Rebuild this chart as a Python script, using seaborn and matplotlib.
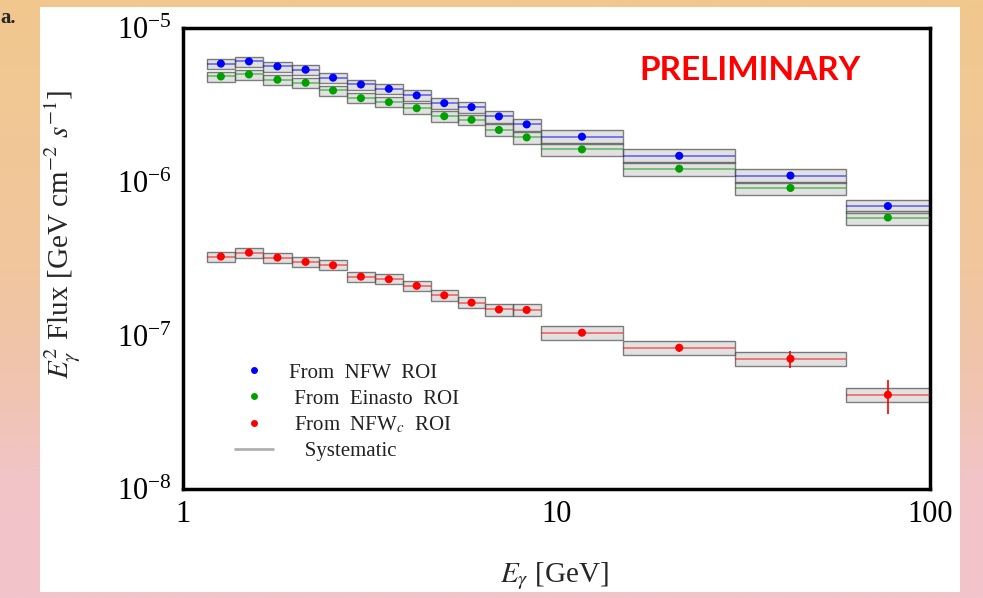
import numpy as np
import pandas as pd
import seaborn as sns
import matplotlib.pyplot as plt
from matplotlib.lines import Line2D
from matplotlib.patches import Rectangle
from matplotlib.ticker import LogLocator, LogFormatterMathtext, FuncFormatter, NullFormatter

# energy bin edges [GeV]
e_edges = [1.16, 1.38, 1.64, 1.96, 2.32, 2.75, 3.27, 3.88, 4.61, 5.45, 6.45, 7.64,
           9.08, 15.1, 30.1, 59.5, 100.0]

# E^2 flux [GeV cm^-2 s^-1] for each bin
nfw = [5.89e-6, 6.09e-6, 5.65e-6, 5.38e-6, 4.77e-6, 4.31e-6, 4.04e-6, 3.66e-6,
       3.26e-6, 3.07e-6, 2.67e-6, 2.37e-6, 1.97e-6, 1.48e-6, 1.10e-6, 6.97e-7]
einasto = [4.86e-6, 5.01e-6, 4.63e-6, 4.42e-6, 3.94e-6, 3.51e-6, 3.31e-6, 3.02e-6,
           2.68e-6, 2.54e-6, 2.18e-6, 1.95e-6, 1.63e-6, 1.22e-6, 9.14e-7, 5.87e-7]
nfwc = [3.27e-7, 3.47e-7, 3.22e-7, 3.02e-7, 2.87e-7, 2.42e-7, 2.33e-7, 2.11e-7,
        1.83e-7, 1.64e-7, 1.48e-7, 1.47e-7, 1.045e-7, 8.34e-8, 7.07e-8, 4.12e-8]

# relative statistical errors (only visible for the last red points)
nfwc_err = [0.03, 0.03, 0.03, 0.03, 0.03, 0.03, 0.03, 0.03,
            0.03, 0.03, 0.04, 0.04, 0.04, 0.06, 0.13, 0.25]
# systematic band half width, as fraction of the flux
sys_frac = [0.075, 0.075, 0.075, 0.075, 0.075, 0.075, 0.075, 0.08,
            0.08, 0.08, 0.09, 0.09, 0.10, 0.10, 0.10, 0.10]

labels = ["From  NFW  ROI", " From  Einasto  ROI", " From  NFW$_c$  ROI"]
colors = ["#0000ff", "#00a000", "#ff0000"]

edges = np.array(e_edges)
lo, hi = edges[:-1], edges[1:]
centers = np.sqrt(lo * hi)

rows = []
for name, vals in zip(["nfw", "einasto", "nfwc"], [nfw, einasto, nfwc]):
    for e, v in zip(centers, vals):
        rows.append({"E": e, "flux": v, "roi": name})
df = pd.DataFrame(rows)

sns.set_theme(style="white")
plt.rcParams["font.family"] = ["Liberation Serif", "DejaVu Serif"]
plt.rcParams["mathtext.fontset"] = "stix"

fig = plt.figure(figsize=(9.83, 5.98), dpi=100)

# slide background behind the white panel
bg = fig.add_axes([0, 0, 1, 1], zorder=-10)
stops = np.array([[242, 200, 142], [241, 198, 158], [240, 196, 175], [242, 196, 200], [243, 196, 203]]) / 255
pos = np.array([0.0, 0.45, 0.65, 0.8, 1.0])
yy = np.linspace(0, 1, 300)
grad = np.stack([np.interp(yy, pos, stops[:, i]) for i in range(3)], axis=-1)[:, None, :]
bg.imshow(grad, aspect="auto", extent=[0, 1, 0, 1], origin="upper")
bg.set_xlim(0, 1)
bg.set_ylim(0, 1)
bg.axis("off")
bg.add_patch(Rectangle((40 / 983, 1 - 592 / 598), 920 / 983, 585 / 598,
                       facecolor="white", edgecolor="none"))
fig.text(0.0, 1 - 18 / 598, "a.", fontsize=15, fontweight="bold", va="center", ha="left")

ax = fig.add_axes([182.7 / 983, 1 - 489.3 / 598, 747.3 / 983, 461 / 598])
ax.set_xscale("log")
ax.set_yscale("log")
ax.set_xlim(1, 100)
ax.set_ylim(1e-8, 1e-5)

# systematic boxes
for vals in [nfw, einasto, nfwc]:
    v = np.array(vals)
    f = np.array(sys_frac)
    ax.bar(lo, v * (1 + f) - v * (1 - f), width=hi - lo, bottom=v * (1 - f), align="edge",
           color="#c4c4c4", alpha=0.5, edgecolor="none", zorder=1)
    ax.bar(lo, v * (1 + f) - v * (1 - f), width=hi - lo, bottom=v * (1 - f), align="edge",
           fill=False, edgecolor="#555555", linewidth=1.0, alpha=0.75, zorder=2)

# bin width lines
for vals, c in zip([nfw, einasto, nfwc], colors):
    ax.hlines(vals, lo, hi, colors=c, linewidth=1.1, alpha=0.6, zorder=3)

# statistical error bars for red points
v = np.array(nfwc)
e = np.array(nfwc_err)
ax.vlines(centers, v * (1 - e), v * (1 + e), colors="#ff0000", linewidth=1.2, zorder=3)

sns.scatterplot(data=df, x="E", y="flux", hue="roi",
                palette={"nfw": colors[0], "einasto": colors[1], "nfwc": colors[2]},
                s=34, edgecolor="none", legend=False, ax=ax, zorder=4)

for side in ["left", "bottom", "top", "right"]:
    ax.spines[side].set_linewidth(2.5)
    ax.spines[side].set_color("black")

ax.xaxis.set_major_locator(LogLocator(base=10))
ax.xaxis.set_minor_locator(LogLocator(base=10, subs=range(2, 10)))
ax.yaxis.set_major_locator(LogLocator(base=10))
ax.yaxis.set_minor_locator(LogLocator(base=10, subs=range(2, 10)))
ax.xaxis.set_major_formatter(FuncFormatter(lambda x, p: f"{x:g}"))
ax.xaxis.set_minor_formatter(NullFormatter())
ax.yaxis.set_major_formatter(LogFormatterMathtext())
ax.yaxis.set_minor_formatter(NullFormatter())
ax.tick_params(which="both", direction="in", top=False, right=False, colors="black")
ax.tick_params(which="major", length=9, width=1.6, labelsize=22, pad=8)
ax.tick_params(which="minor", length=6, width=1.0)

ax.set_xlabel(r"$E_\gamma$ [GeV]", fontsize=21)
ax.set_ylabel(r"$E_\gamma^2$ Flux [GeV cm$^{-2}$ $s^{-1}$]", fontsize=21)
ax.xaxis.set_label_coords(0.497, -0.155)
ax.yaxis.set_label_coords(-0.133, 0.552)

ax.text(0.759, 0.9095, "PRELIMINARY", transform=ax.transAxes, color="#ff0000",
        fontsize=24, fontweight="bold", family="Lato", ha="center", va="center")

handles = [Line2D([], [], linestyle="none", marker="o", markersize=5,
                  markerfacecolor=c, markeredgecolor="none") for c in colors]
handles.append(Line2D([], [], color="#b0b0b0", linewidth=2))
leg = ax.legend(handles, labels + ["   Systematic"], loc="lower left",
                bbox_to_anchor=(0.045, 0.02), frameon=False, fontsize=15,
                handlelength=1.8, handletextpad=0.8, labelspacing=0.3)
for t in leg.get_texts():
    t.set_color("#222222")

fig.savefig("out.png", dpi=100)
